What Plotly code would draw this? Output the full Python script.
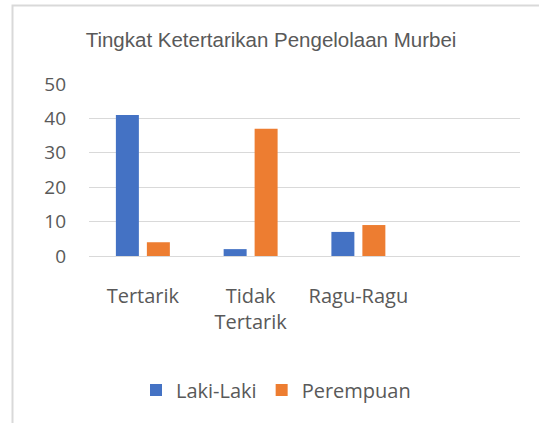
import plotly.graph_objects as go

categories = ["Tertarik", "Tidak<br>Tertarik", "Ragu-Ragu", " "]
laki_laki = [41, 2, 7]
perempuan = [4, 37, 9]
y_ticks = [0, 10, 20, 30, 40, 50]

W, H = 539, 423
L, R, T, B = 89, 19, 84, 167
PW, PH = W - L - R, H - T - B

def px_x(x):
    return (x - L) / PW

def px_y(y):
    return (H - B - y) / PH

fig = go.Figure()
fig.add_trace(go.Bar(name="Laki-Laki", x=categories[:3], y=laki_laki,
                     marker=dict(color="#4472C4", line=dict(width=0))))
fig.add_trace(go.Bar(name="Perempuan", x=categories[:3], y=perempuan,
                     marker=dict(color="#ED7D31", line=dict(width=0))))

fig.update_layout(
    width=W, height=H,
    margin=dict(l=L, r=R, t=T, b=B, pad=0),
    paper_bgcolor="white", plot_bgcolor="white",
    barmode="group", bargap=0.425, bargroupgap=0.258,
    title=dict(text="Tingkat Ketertarikan Pengelolaan Murbei",
               font=dict(family="Liberation Sans", size=20.5, color="#595959"),
               x=271 / W, xanchor="center", xref="container",
               y=1 - 40 / H, yanchor="middle", yref="container"),
    showlegend=True,
    legend=dict(orientation="h", x=px_x(136), xanchor="left",
                y=px_y(390), yanchor="middle",
                font=dict(family="Open Sans", size=20, color="#595959"),
                bgcolor="rgba(0,0,0,0)", itemwidth=30),
    xaxis=dict(type="category", categoryorder="array", categoryarray=categories,
               range=[-0.5, 3.5], showgrid=False, zeroline=False, showline=False,
               ticks="", tickfont=dict(family="Open Sans", size=20, color="#595959"),
               ticklabelstandoff=26, fixedrange=True),
    yaxis=dict(range=[0, 50], tickvals=y_ticks, showgrid=True, gridcolor="#d9d9d9",
               gridwidth=1, zeroline=True, zerolinecolor="#d9d9d9", zerolinewidth=1,
               showline=False, ticks="",
               tickfont=dict(family="Open Sans", size=19, color="#595959"),
               ticklabelstandoff=22, fixedrange=True),
    shapes=[dict(type="path", xref="paper", yref="paper",
                 path=f"M {px_x(12.5)},{px_y(430)} L {px_x(12.5)},{px_y(5.5)} L {px_x(545)},{px_y(5.5)}",
                 line=dict(color="#d9d9d9", width=2))],
)

fig.write_html("out.html", config={"displayModeBar": False},
               post_script="document.body.style.margin='0';document.body.style.padding='0';")
